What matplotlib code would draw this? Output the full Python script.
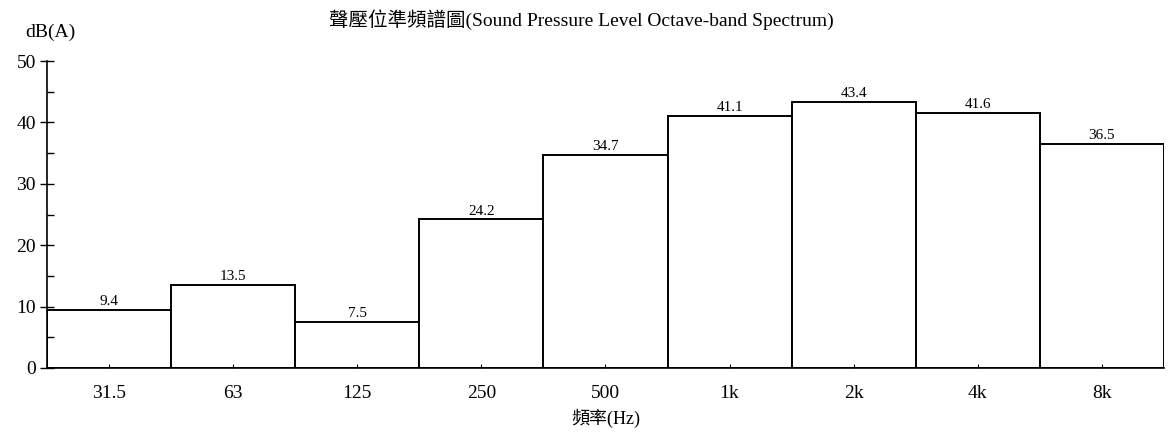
import numpy as np
import matplotlib.pyplot as plt
from matplotlib.ticker import MultipleLocator

plt.rcParams['font.family'] = ['Liberation Serif', 'Noto Sans CJK TC']

# octave bands and levels
bands = ['31.5', '63', '125', '250', '500', '1k', '2k', '4k', '8k']
levels = [9.4, 13.5, 7.5, 24.2, 34.7, 41.1, 43.4, 41.6, 36.5]
level_labels = ['9.4', '13.5', '7.5', '24.2', '34.7', '41.1', '43.4', '41.6', '36.5']

fig = plt.figure(figsize=(11.69, 4.36), dpi=100)
ax = fig.add_axes([0.0402, 0.156, 0.9555, 0.704])

x = np.arange(len(bands))
ax.bar(x, levels, width=1.0, color='white', edgecolor='black', linewidth=1.4)

for xi, v, t in zip(x, levels, level_labels):
    ax.text(xi, v + 0.3, t, ha='center', va='bottom', fontsize=11)

ax.set_xlim(-0.5, len(bands) - 0.5)
ax.set_ylim(0, 50)
ax.set_xticks(x)
ax.set_xticklabels(bands, fontsize=14)
ax.yaxis.set_major_locator(MultipleLocator(10))
ax.yaxis.set_minor_locator(MultipleLocator(5))
ax.tick_params(axis='y', which='major', direction='inout', length=10, labelsize=14, width=1, pad=3)
ax.tick_params(axis='y', which='minor', direction='in', length=5, width=1)
ax.tick_params(axis='x', direction='in', length=3, labelsize=14, pad=12)

ax.spines['top'].set_visible(False)
ax.spines['right'].set_visible(False)
ax.spines['left'].set_linewidth(1.2)
ax.spines['bottom'].set_linewidth(1.2)

ax.set_xlabel('頻率(Hz)', fontsize=13, labelpad=5)
fig.text(0.022, 0.925, 'dB(A)', fontsize=14, ha='left', va='center')
fig.text(0.497, 0.955, '聲壓位準頻譜圖(Sound Pressure Level Octave-band Spectrum)',
         fontsize=14, ha='center', va='center')

fig.savefig('out.png', dpi=100)
